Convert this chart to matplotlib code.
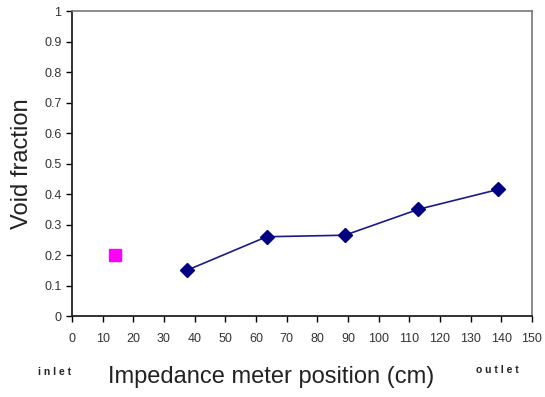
import matplotlib
matplotlib.use('Agg')
from matplotlib import pyplot as plt

plt.rcParams['font.family'] = ['Liberation Sans', 'DejaVu Sans']

# measured void fraction along the pipe
positions = [37.5, 63.5, 89, 113, 139]
void_frac = [0.15, 0.26, 0.265, 0.35, 0.415]
# inlet reference point
inlet_pos = [14]
inlet_void = [0.2]

xticks = list(range(0, 151, 10))
yticks = [0, 0.1, 0.2, 0.3, 0.4, 0.5, 0.6, 0.7, 0.8, 0.9, 1]
ytick_labels = ['0', '0.1', '0.2', '0.3', '0.4', '0.5', '0.6', '0.7', '0.8', '0.9', '1']

fig = plt.figure(figsize=(5.45, 3.97), dpi=100)
ax = fig.add_axes([0.132, 0.204, 0.844, 0.768])

ax.plot(positions, void_frac, color='#1a1a8c', linewidth=1.2, marker='D',
        markersize=7, markerfacecolor='#000080', markeredgecolor='#000080')
ax.plot(inlet_pos, inlet_void, linestyle='none', marker='s', markersize=8,
        color='#ff00ff')

ax.set_xlim(0, 150)
ax.set_ylim(0, 1)
ax.set_xticks(xticks)
ax.set_yticks(yticks)
ax.set_yticklabels(ytick_labels)
ax.tick_params(direction='out', length=4, width=1, labelsize=9,
               labelcolor='#333333')
ax.tick_params(axis='x', pad=8)

ax.spines['left'].set_color('#222222')
ax.spines['bottom'].set_color('#222222')
ax.spines['left'].set_linewidth(1.3)
ax.spines['bottom'].set_linewidth(1.3)
ax.spines['top'].set_color('#777777')
ax.spines['right'].set_color('#777777')
ax.spines['top'].set_linewidth(1.2)
ax.spines['right'].set_linewidth(1.2)

ax.set_ylabel('Void fraction', fontsize=17, color='#222222', labelpad=8)
fig.text(0.497, 0.05, 'Impedance meter position (cm)', fontsize=17,
         color='#222222', ha='center', va='center')
fig.text(0.10, 0.063, 'i n l e t', fontsize=7.5, fontweight='bold',
         color='#222222', ha='center', va='center')
fig.text(0.912, 0.068, 'o u t l e t', fontsize=7.5, fontweight='bold',
         color='#222222', ha='center', va='center')

fig.savefig('out.png', dpi=100)
